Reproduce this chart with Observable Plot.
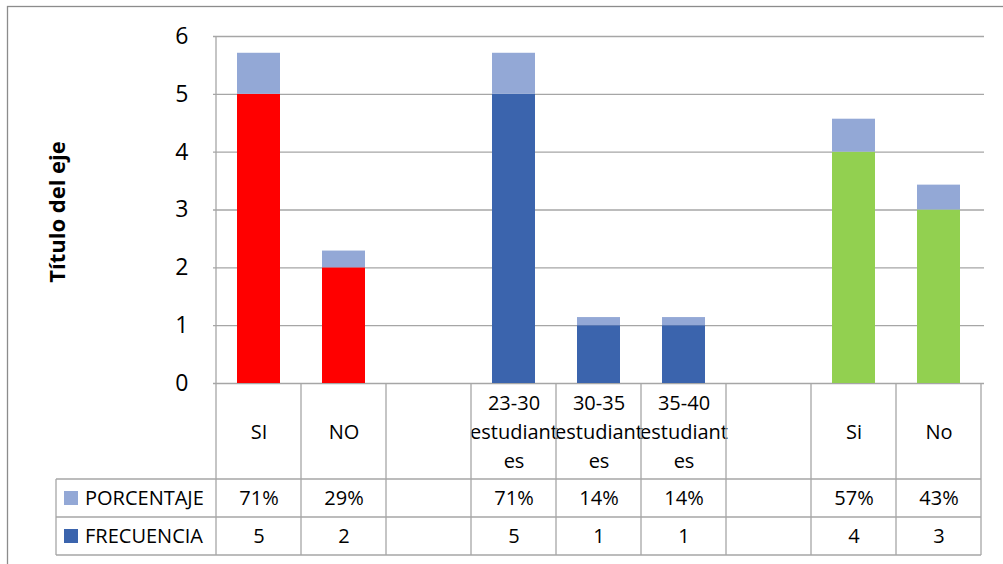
<!DOCTYPE html>
<html>
<head>
<meta charset="utf-8">
<script src="https://cdn.jsdelivr.net/npm/d3@7"></script>
<script src="https://cdn.jsdelivr.net/npm/@observablehq/plot@0.6"></script>
<style>
  html, body { margin: 0; padding: 0; background: #fff; }
  svg { display: block; }
</style>
</head>
<body>
<div id="chart"></div>
<script>
// ---- data ----
const categories = ["SI", "NO", "", "23-30 estudiantes", "30-35 estudiantes", "35-40 estudiantes", "", "Si", "No"];
const frecuencia = [5, 2, null, 5, 1, 1, null, 4, 3];
const porcentaje = [0.71, 0.29, null, 0.71, 0.14, 0.14, null, 0.57, 0.43];
const grupo = ["a", "a", null, "b", "b", "b", null, "c", "c"];
const seriesNames = ["PORCENTAJE", "FRECUENCIA"];
const yTicks = [0, 1, 2, 3, 4, 5, 6];
const axisTitle = "Título del eje";

const groupColors = {a: "#FF0000", b: "#3B64AD", c: "#92D050"};
const pctColor = "#93A8D6";
const legendColors = [pctColor, "#3B64AD"];
const lineColor = "#A6A6A6";
const FONT = "'Open Sans', sans-serif";

// Excel-like wrap: one word per line, long words broken at 9 chars
function wrap(label, maxChars = 9) {
  if (!label) return "";
  const out = [];
  for (const w of label.split(" ")) {
    for (let k = 0; k < w.length; k += maxChars) out.push(w.slice(k, k + maxChars));
  }
  return out.join("\n");
}

const idx = d3.range(categories.length);
const rows = idx.filter(i => frecuencia[i] != null).map(i => ({
  i, f: frecuencia[i], p: porcentaje[i], g: grupo[i]
}));

const CAT_H = 96, ROW_H = 38;

const plot = Plot.plot({
  width: 1003,
  height: 564,
  marginLeft: 213,
  marginRight: 19,
  marginTop: 36,
  marginBottom: 181,
  style: {fontFamily: FONT, background: "#fff", color: "#000"},
  x: {domain: idx, paddingInner: 0.5, paddingOuter: 0.25, axis: null},
  y: {domain: [0, 6]},
  marks: [
    Plot.gridY(yTicks, {stroke: lineColor, strokeOpacity: 1, strokeWidth: 1.3}),
    Plot.axisY(yTicks, {tickSize: 0, tickPadding: 25, fontSize: 23, label: null, tickFormat: d3.format("d")}),
    Plot.text([axisTitle], {frameAnchor: "left", rotate: -90, dx: -156, dy: 2, textAnchor: "middle", lineAnchor: "middle", fontWeight: "bold", fontSize: 22, fill: "#000"}),
    Plot.barY(rows, {x: "i", y1: 0, y2: "f", fill: d => groupColors[d.g]}),
    Plot.barY(rows, {x: "i", y1: "f", y2: d => d.f + d.p, fill: pctColor}),
    // table: category labels
    Plot.text(idx, {x: i => i, text: i => wrap(categories[i]), frameAnchor: "bottom", lineAnchor: "middle", dy: CAT_H / 2 - 2, fontSize: 20, lineHeight: 1.45, fill: "#000"}),
    // percentage row
    Plot.text(rows, {x: "i", text: d => d3.format(".0%")(d.p), frameAnchor: "bottom", lineAnchor: "middle", dy: CAT_H + ROW_H / 2, fontSize: 20, fill: "#000"}),
    // frecuencia row
    Plot.text(rows, {x: "i", text: d => String(d.f), frameAnchor: "bottom", lineAnchor: "middle", dy: CAT_H + ROW_H * 1.5, fontSize: 20, fill: "#000"})
  ]
});

// ---- table grid and legend, from the plot's scales ----
const xs = plot.scale("x");
const ys = plot.scale("y");
const step = xs.step, bw = xs.bandwidth;
const center = i => xs.apply(i) + bw / 2;
const left = center(0) - step / 2;
const right = center(idx.length - 1) + step / 2;
const y0 = ys.apply(0), yTop = ys.apply(6);
const legendLeft = left - 160;
const yBottom = y0 + CAT_H + 2 * ROW_H;

const svg = d3.select(plot);
const g = svg.append("g").attr("stroke", lineColor).attr("stroke-width", 1.3).attr("fill", "none");
// outer chart border
svg.insert("rect", ":first-child")
  .attr("x", 7.5).attr("y", 6.5).attr("width", 1010).attr("height", 570)
  .attr("fill", "#fff").attr("stroke", "#8C8C8C").attr("stroke-width", 1.3);
// horizontal table lines
for (const yy of [y0 + CAT_H, y0 + CAT_H + ROW_H, yBottom]) {
  g.append("line").attr("x1", legendLeft).attr("x2", right).attr("y1", yy).attr("y2", yy);
}
// vertical table lines
for (let k = 0; k <= idx.length; k++) {
  const xx = left + k * step;
  g.append("line").attr("x1", xx).attr("x2", xx).attr("y1", k === 0 ? yTop : y0).attr("y2", yBottom);
}
g.append("line").attr("x1", legendLeft).attr("x2", legendLeft).attr("y1", y0 + CAT_H).attr("y2", yBottom);

// legend cells
seriesNames.forEach((name, k) => {
  const cy = y0 + CAT_H + ROW_H * (k + 0.5);
  svg.append("rect").attr("x", legendLeft + 8).attr("y", cy - 7).attr("width", 14).attr("height", 14).attr("fill", legendColors[k]);
  svg.append("text").attr("x", legendLeft + 29).attr("y", cy).attr("dy", "0.35em")
    .attr("text-anchor", "start")
    .attr("font-family", FONT).attr("font-size", 20).attr("fill", "#000").text(name);
});

document.getElementById("chart").appendChild(plot);
</script>
</body>
</html>
